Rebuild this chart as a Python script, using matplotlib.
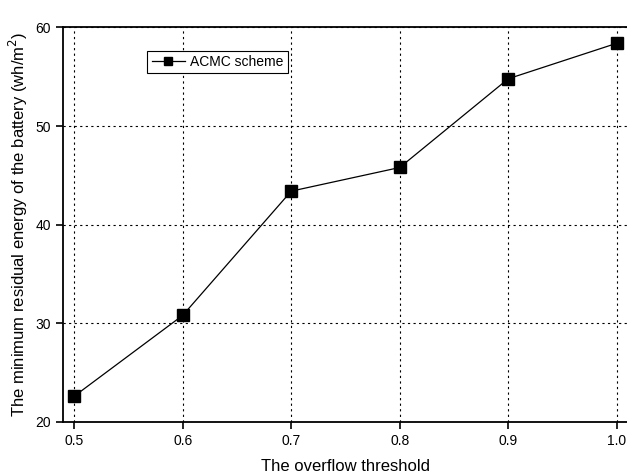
import matplotlib.pyplot as plt

plt.rcParams['font.family'] = ['Liberation Sans', 'DejaVu Sans']

threshold = [0.5, 0.6, 0.7, 0.8, 0.9, 1.0]
energy = [22.6, 30.8, 43.4, 45.8, 54.8, 58.4]
xticks = [0.5, 0.6, 0.7, 0.8, 0.9, 1.0]
yticks = [20, 30, 40, 50, 60]

fig = plt.figure(figsize=(6.27, 4.74), dpi=100)
ax = fig.add_axes([0.101, 0.110, 0.900, 0.832])

ax.plot(threshold, energy, color='black', lw=0.9, marker='s', ms=8.5,
        mfc='black', mec='black', label='ACMC scheme', zorder=3)

ax.set_xlim(0.49, 1.01)
ax.set_ylim(20, 60)
ax.set_xticks(xticks)
ax.set_xticklabels(['%.1f' % t for t in xticks])
ax.set_yticks(yticks)
ax.tick_params(direction='out', length=5, width=1.2, labelsize=10, pad=4)
ax.grid(True, color='black', ls=(0, (2, 3)), lw=0.8)
for s in ax.spines.values():
    s.set_linewidth(1.3)

ax.set_xlabel('The overflow threshold', fontsize=12, labelpad=8)
ax.set_ylabel('The minimum residual energy of the battery (wh/m$^2$)', fontsize=12, labelpad=4)

leg = ax.legend(loc='upper left', bbox_to_anchor=(0.149, 0.94), fontsize=10,
                frameon=True, fancybox=False, edgecolor='black', framealpha=1,
                borderpad=0.3, handlelength=2.4, handletextpad=0.4, borderaxespad=0,
                markerscale=0.7)
leg.get_frame().set_linewidth(0.8)

fig.savefig('out.png', dpi=100)
